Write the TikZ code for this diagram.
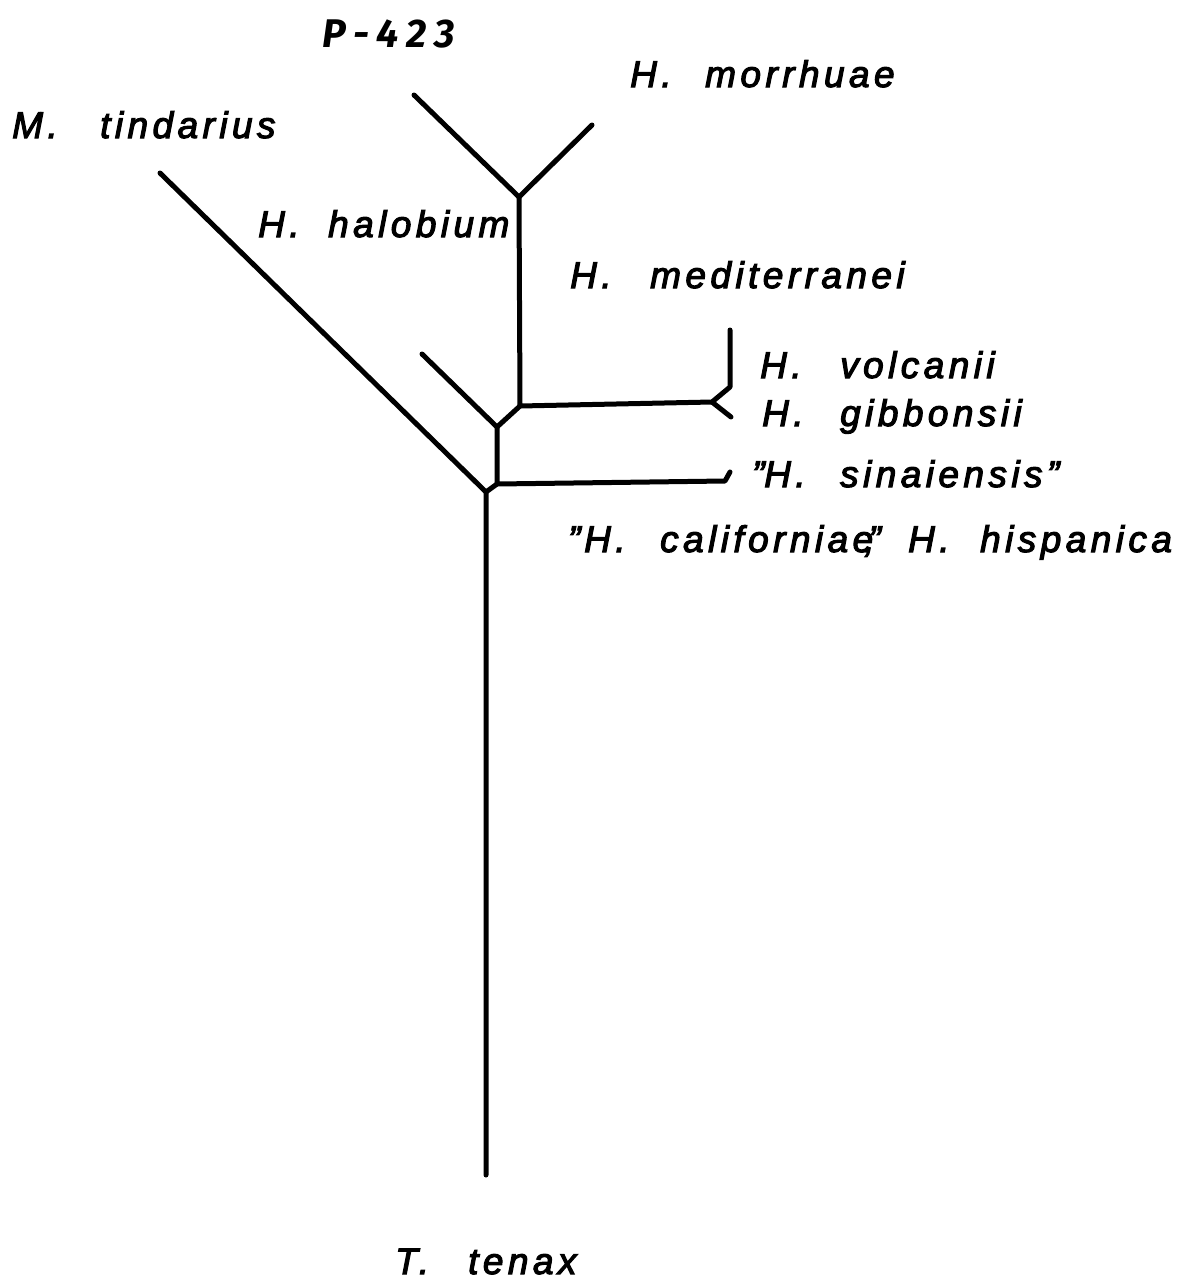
\documentclass[tikz,border=0pt]{standalone}
\usepackage{fontspec}
\setmainfont{Liberation Sans}
\newfontfamily\lab[LetterSpace=12,FakeBold=3]{Liberation Sans}
\newfontfamily\hand[LetterSpace=20]{Fira Sans}
\newcommand{\gen}[2]{\makebox[#1pt][l]{#2}}
\begin{document}
\begin{tikzpicture}[x=1pt,y=-1pt,
  br/.style={line width=5pt,line join=round,line cap=round},
  lbl/.style={anchor=base west,inner sep=0pt,font=\lab\itshape\fontsize{37}{42}\selectfont}]
\useasboundingbox (0,0) rectangle (1195,1283);
% tree points
\coordinate (p423) at (414,95);
\coordinate (pmor) at (592,125);
\coordinate (pA) at (519,197);
\coordinate (pD) at (520,406);
\coordinate (pV) at (712,402);
\coordinate (pVup) at (730,387);
\coordinate (pVtop) at (730,330);
\coordinate (pG) at (731,417);
\coordinate (phal) at (422,354);
\coordinate (pB) at (497,427);
\coordinate (pE) at (497,484);
\coordinate (pS) at (725,481);
\coordinate (pStip) at (730,472);
\coordinate (ptin) at (160,173);
\coordinate (pC) at (486,492);
\coordinate (pbot) at (486,1175);
% branches
\draw[br] (p423) -- (pA) -- (pmor);
\draw[br] (pA) -- (pD) -- (pV) -- (pVup) -- (pVtop);
\draw[br] (pV) -- (pG);
\draw[br] (pD) -- (pB);
\draw[br] (phal) -- (pB) -- (pE) -- (pS) -- (pStip);
\draw[br] (pE) -- (pC);
\draw[br] (ptin) -- (pC) -- (pbot);
% labels
\node[anchor=base west,inner sep=0pt,font=\hand\itshape\bfseries\fontsize{40}{44}\selectfont] (l423) at (322,47) {P-423};
\node[lbl] (lmor) at (630,87) {\gen{75}{H.}morrhuae};
\node[lbl] (ltin) at (12,138) {\gen{88}{M.}tindarius};
\node[lbl] (lhal) at (258,237) {\gen{70}{H.}halobium};
\node[lbl] (lmed) at (570,288) {\gen{80}{H.}mediterranei};
\node[lbl] (lvol) at (760,378) {\gen{80}{H.}volcanii};
\node[lbl] (lgib) at (762,426) {\gen{78}{H.}gibbonsii};
\node[lbl] (lsin) at (752,487) {\gen{12}{”}\gen{76}{H.}sinaiensis”};
\node[lbl] (lcal) at (568,552) {\gen{16}{”}\gen{76}{H.}\gen{248}{californiae\kern-9pt,\kern-6pt”}\gen{72}{H.}hispanica};
\node[lbl] (lten) at (395,1274) {\gen{73}{T.}tenax};
\end{tikzpicture}
\end{document}
